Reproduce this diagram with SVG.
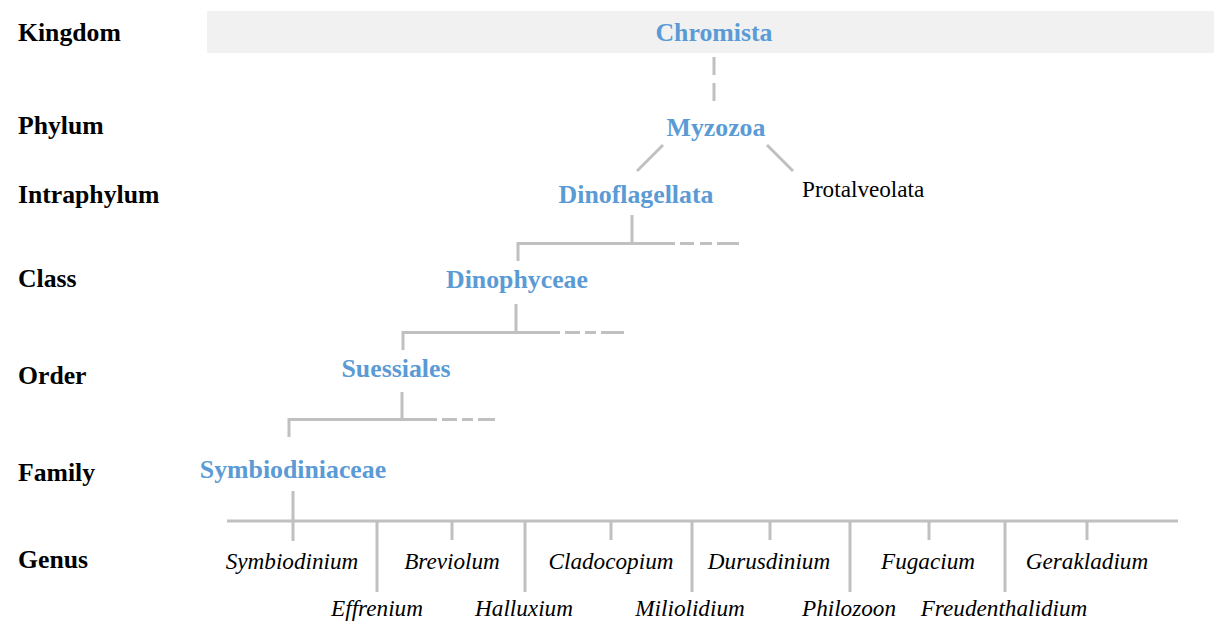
<svg xmlns="http://www.w3.org/2000/svg" width="1214" height="622" viewBox="0 0 1214 622">
<style>
.rank{font-family:"Liberation Serif",serif;font-weight:bold;font-size:25.7px;fill:#000}
.taxon{font-family:"Liberation Serif",serif;font-weight:bold;font-size:25.8px;fill:#5b9bd5;text-anchor:middle}
.other{font-family:"Liberation Serif",serif;font-size:23.2px;fill:#000}
.genus{font-family:"Liberation Serif",serif;font-style:italic;font-size:23.2px;fill:#000;text-anchor:middle}
.ln{stroke:#c0c0c0;stroke-width:3;fill:none}
</style>
<rect x="207" y="11" width="1007" height="42" fill="#f1f1f1"/>
<g id="ranks">
<text class="rank" x="18" y="41">Kingdom</text>
<text class="rank" x="18" y="134">Phylum</text>
<text class="rank" x="18" y="203">Intraphylum</text>
<text class="rank" x="18" y="287">Class</text>
<text class="rank" x="18" y="384">Order</text>
<text class="rank" x="18" y="481">Family</text>
<text class="rank" x="18" y="568">Genus</text>
</g>
<g id="connectors" class="ln">
<line x1="714" y1="57" x2="714" y2="102" stroke-dasharray="18 8"/>
<line x1="663" y1="145" x2="637" y2="171"/>
<line x1="767" y1="145" x2="793" y2="171"/>
<path d="M632 215V243.5M518 261V243.5H675M680 243.5H694M700 243.5H712M717 243.5H739"/>
<path d="M516 304V332.5M403 350V332.5H560M565 332.5H580M585 332.5H596M601 332.5H624"/>
<path d="M402 392V419.5M289 437V419.5H437M442 419.5H457M462 419.5H473M478 419.5H495"/>
<path d="M293 491V541M227 521H1178"/>
<path d="M452 521V540M611 521V540M770 521V540M929 521V540M1087 521V540"/>
<path d="M377 521V592M525 521V592M692 521V592M850 521V592M1005 521V592"/>
</g>
<g id="n-chromista"><text class="taxon" x="714" y="41">Chromista</text></g>
<g id="n-myzozoa"><text class="taxon" x="716" y="136">Myzozoa</text></g>
<g id="n-dinoflagellata"><text class="taxon" x="636" y="203">Dinoflagellata</text></g>
<g id="n-protalveolata"><text class="other" x="802" y="197">Protalveolata</text></g>
<g id="n-dinophyceae"><text class="taxon" x="517" y="288">Dinophyceae</text></g>
<g id="n-suessiales"><text class="taxon" x="396" y="377">Suessiales</text></g>
<g id="n-symbiodiniaceae"><text class="taxon" x="293" y="478">Symbiodiniaceae</text></g>
<g id="genera">
<text class="genus" x="292" y="569">Symbiodinium</text>
<text class="genus" x="452" y="569">Breviolum</text>
<text class="genus" x="611" y="569">Cladocopium</text>
<text class="genus" x="769" y="569">Durusdinium</text>
<text class="genus" x="928" y="569">Fugacium</text>
<text class="genus" x="1087" y="569">Gerakladium</text>
<text class="genus" x="377" y="616">Effrenium</text>
<text class="genus" x="524" y="616">Halluxium</text>
<text class="genus" x="690" y="616">Miliolidium</text>
<text class="genus" x="849" y="616">Philozoon</text>
<text class="genus" x="1004" y="616">Freudenthalidium</text>
</g>
</svg>
